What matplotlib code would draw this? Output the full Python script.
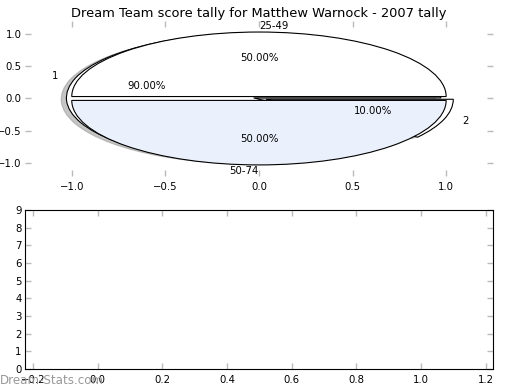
import matplotlib
matplotlib.use("Agg")
import matplotlib.pyplot as plt

# score tally data
tally_labels = ["1", "2"]
tally_values = [90, 10]
range_labels = ["25-49", "50-74"]
range_values = [50, 50]
range_colors = ["white", "#ebf1fc"]

title = "Dream Team score tally for Matthew Warnock - 2007 tally"
bar_yticks = list(range(0, 10))
bar_xticks = [-0.2, 0.0, 0.2, 0.4, 0.6, 0.8, 1.0, 1.2]

plt.rcParams["font.family"] = "DejaVu Sans"
plt.rcParams["font.size"] = 7.3

fig = plt.figure(figsize=(5.2, 3.9), dpi=100)
ax1 = fig.add_axes([0.048, 0.549, 0.9, 0.397])
ax2 = fig.add_axes([0.048, 0.054, 0.9, 0.4075])

# first pie: 90 / 10 with shadow, drawn underneath
ax1.pie(tally_values, labels=tally_labels, autopct="%.2f%%",
        shadow={"ox": -0.02, "oy": -0.015, "shade": 0.45},
        explode=[0.03, 0.04], colors=["white", "white"],
        wedgeprops={"edgecolor": "black", "linewidth": 0.8},
        textprops={"fontsize": 7.3})
# second pie on top: 50 / 50
w2, t2, a2 = ax1.pie(range_values, labels=range_labels, autopct="%.2f%%",
                     explode=[0.03, 0.03], colors=range_colors,
                     wedgeprops={"edgecolor": "black", "linewidth": 0.8},
                     textprops={"fontsize": 7.3})
t2[0].set_ha("left")
t2[1].set_ha("right")
ax1.set_aspect("auto")
ax1.set_xlim(-1.25, 1.25)
ax1.set_ylim(-1.2, 1.2)
ax1.set_xticks([-1.0, -0.5, 0.0, 0.5, 1.0])
ax1.set_yticks([-1.0, -0.5, 0.0, 0.5, 1.0])
ax1.set_frame_on(False)
ax1.set_title(title, fontsize=9.4, pad=3)

for ax in (ax1, ax2):
    ax.tick_params(direction="in", length=4, width=1, color="#bbbbbb",
                   top=True, right=True, labelsize=7.3, pad=4.5)
    ax.tick_params(axis="y", pad=2.5)

ax2.set_xlim(-0.225, 1.222)
ax2.set_ylim(0, 9)
ax2.set_xticks(bar_xticks)
ax2.set_yticks(bar_yticks)

fig.text(0.0, 0.025, "Dream-Stats.com", color="#999999",
         fontsize=8.6, ha="left", va="center")

fig.savefig("out.png", dpi=100)
